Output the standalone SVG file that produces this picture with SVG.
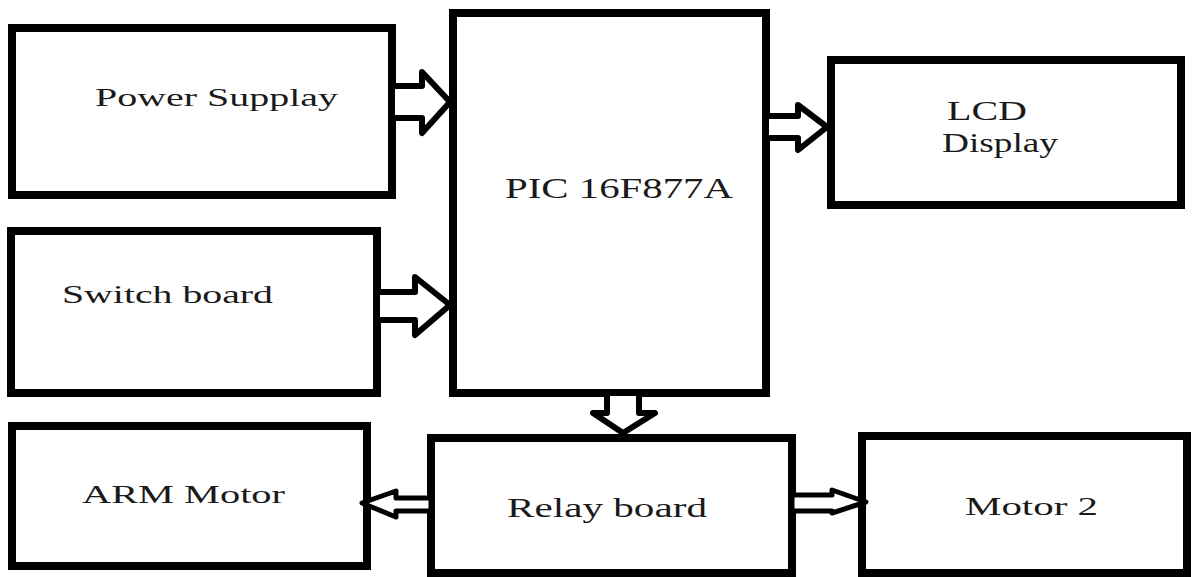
<svg xmlns="http://www.w3.org/2000/svg" width="1194" height="577" viewBox="0 0 1194 577">
<style>
.box{fill:#fff;stroke:#000;stroke-width:8}
.arr{fill:#fff;stroke:#000;stroke-width:6;stroke-linejoin:round}
.arr2{fill:#fff;stroke:#000;stroke-width:5;stroke-linejoin:round}
.t{font-family:"Liberation Serif","Times New Roman",serif;fill:#1a1a1a;font-size:26px}
</style>
<rect width="1194" height="577" fill="#fff"/>
<g id="power">
<rect class="box" x="12" y="28" width="380" height="167"/>
<text class="t" x="95" y="106" textLength="243" lengthAdjust="spacingAndGlyphs">Power Supplay</text>
</g>
<g id="switch">
<rect class="box" x="11" y="231" width="366" height="162"/>
<text class="t" x="62" y="303" textLength="211" lengthAdjust="spacingAndGlyphs">Switch board</text>
</g>
<g id="pic">
<rect class="box" x="453" y="13" width="313" height="380"/>
<text class="t" x="505" y="198" font-size="29" style="font-size:29px" textLength="228" lengthAdjust="spacingAndGlyphs">PIC 16F877A</text>
</g>
<g id="lcd">
<rect class="box" x="831" y="60" width="350" height="145"/>
<text class="t" x="947" y="120" style="font-size:27px" textLength="80" lengthAdjust="spacingAndGlyphs">LCD</text>
<text class="t" x="942" y="152" style="font-size:27px" textLength="116" lengthAdjust="spacingAndGlyphs">Display</text>
</g>
<g id="arm">
<rect class="box" x="12" y="426" width="355" height="140"/>
<text class="t" x="82" y="503" textLength="203" lengthAdjust="spacingAndGlyphs">ARM Motor</text>
</g>
<g id="relay">
<rect class="box" x="431" y="438" width="361" height="135"/>
<text class="t" x="507" y="517" style="font-size:28px" textLength="200" lengthAdjust="spacingAndGlyphs">Relay board</text>
</g>
<g id="motor2">
<rect class="box" x="862" y="436" width="325" height="137"/>
<text class="t" x="965" y="515" textLength="133" lengthAdjust="spacingAndGlyphs">Motor 2</text>
</g>
<g id="connectors">
<polygon class="arr" points="392,86 422,86 422,72 450,102 422,133 422,118 392,118"/>
<polygon class="arr" points="377,292 415,292 415,277 450,305 415,335 415,320 377,320"/>
<polygon class="arr" points="766,116 798,116 798,105 827,127 798,150 798,138 766,138"/>
<polygon class="arr" points="607,393 607,413 593,413 623,433 655,413 639,413 639,393"/>
<polygon class="arr2" points="431,498 396,498 396,491 362,503 396,517 396,511 431,511"/>
<polygon class="arr2" points="792,495 832,495 832,490 866,502 832,513 832,511 792,511"/>
</g>
</svg>
